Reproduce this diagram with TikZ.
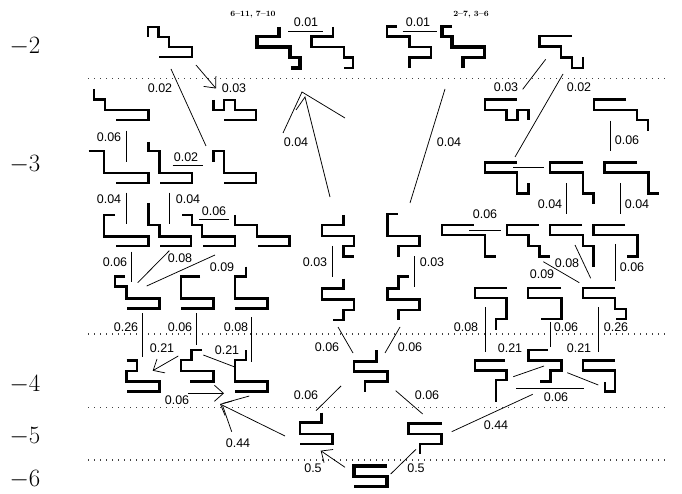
\documentclass[tikz,border=0pt]{standalone}
\usepackage{fontspec}
\newfontfamily\numfont{Liberation Sans}
\usetikzlibrary{arrows.meta}
\begin{document}
\begin{tikzpicture}[x=1pt,y=-1pt,
  conf/.style={line width=2.3pt, line join=miter},
  hot/.style={line width=3.6pt, line join=miter},
  tr/.style={line width=0.75pt},
  barb/.style={tr, -{Straight Barb[length=9pt,width=16pt,line width=0.75pt]}},
  lab/.style={font=\numfont\fontsize{12.5}{14}\selectfont, inner sep=0pt},
  tag/.style={font=\fontsize{8}{9}\selectfont\bfseries, inner sep=0pt},
  axis/.style={font=\fontsize{26}{30}\selectfont, inner sep=0pt},
  level/.style={draw=black!75, line width=1.1pt, dash pattern=on 1.2pt off 4.8pt}
]
\useasboundingbox (0,0) rectangle (682,494);

% energy levels
\node[axis] (e2) at (25,47) {$-2$};
\node[axis] (e3) at (25,165) {$-3$};
\node[axis] (e4) at (25,385) {$-4$};
\node[axis] (e5) at (25,437) {$-5$};
\node[axis] (e6) at (25,480) {$-6$};
\foreach \yy in {78.5,334,407.5,460} \draw[level] (88,\yy) -- (666,\yy);

% ---- conformations, top row
\draw[conf] (148,37)--(148,27)--(158.5,27)--(158.5,37)--(169,37)--(169,47)--(192,47)--(192,57)--(159,57);
\draw[hot] (279,27)--(279,36.5)--(257,36.5)--(257,47)--(290,47)--(290,57.5)--(300,57.5)--(300,68)--(290.5,68);
\draw[conf] (333,27)--(333,36.5)--(311.5,36.5)--(311.5,47)--(344,47)--(344,57.5)--(353,57.5)--(353,68)--(344,68);
\draw[conf] (397,26.5)--(387,26.5)--(387,36.5)--(409.5,36.5)--(409.5,47)--(431,47)--(431,57.5)--(409.5,57.5)--(409.5,68);
\draw[hot] (452,26.5)--(442,26.5)--(442,36.5)--(452,36.5)--(452,47)--(484.5,47)--(484.5,57.5)--(463,57.5)--(463,68);
\draw[conf] (572,36)--(539.5,36)--(539.5,46.5)--(561,46.5)--(561,57.5)--(572,57.5)--(572,68)--(583,68)--(583,57.5);
\node[tag] (t1) at (253,15) {6--11, 7--10};
\node[tag] (t2) at (471,15) {2--7, 3--6};

% ---- second row
\draw[conf] (94,89)--(94,99.5)--(105,99.5)--(105,110)--(148.5,110)--(148.5,120)--(116,120);
\draw[conf] (213.5,100)--(213.5,110)--(224,110)--(224,100)--(235,100)--(235,110)--(256,110)--(256,120)--(224,120);
\draw[conf] (516.5,99.5)--(485,99.5)--(485,110)--(506.5,110)--(506.5,120)--(517.5,120)--(517.5,110)--(528.5,110)--(528.5,120.5);
\draw[conf] (626,99.5)--(594,99.5)--(594,110)--(637,110)--(637,120)--(648,120)--(648,131);

% ---- third row
\draw[conf] (88.5,151)--(104,151)--(104,173)--(148.5,173)--(148.5,183)--(116,183);
\draw[conf] (148.5,142)--(148.5,151)--(159.5,151)--(159.5,173)--(192,173)--(192,183)--(159.5,183);
\draw[conf] (213.5,162)--(213.5,151)--(224,151)--(224,173)--(256,173)--(256,183)--(224,183);
\draw[conf] (516.5,162.5)--(485,162.5)--(485,172.5)--(517,172.5)--(517,193.5)--(528.5,193.5)--(528.5,183);
\draw[conf] (583,162.5)--(550,162.5)--(550,172.5)--(583,172.5)--(583,193.5)--(593.5,193.5)--(593.5,204);
\draw[conf] (637,162.5)--(604.5,162.5)--(604.5,172.5)--(648.5,172.5)--(648.5,193.5)--(658.5,193.5);

% ---- fourth row
\draw[conf] (115,215)--(104,215)--(104,236.5)--(148.5,236.5)--(148.5,246)--(116,246);
\draw[conf] (148.5,203)--(148.5,225)--(159.5,225)--(159.5,236.5)--(191,236.5)--(191,246)--(159.5,246);
\draw[conf] (182,215)--(192,215)--(192,225)--(202,225)--(202,236.5)--(235,236.5)--(235,246)--(203,246);
\draw[conf] (235,215)--(235,225)--(257,225)--(257,236.5)--(289.5,236.5)--(289.5,246)--(257.5,246);
\draw[conf] (343.5,215)--(343.5,225)--(322,225)--(322,236)--(354,236)--(354,246)--(343.5,246)--(343.5,256.5)--(354,256.5);
\draw[conf] (397.5,214)--(387.5,214)--(387.5,236)--(419.5,236)--(419.5,246)--(398.5,246)--(398.5,257);
\draw[conf] (473.5,225)--(442,225)--(442,235)--(485,235)--(485,256.5)--(496,256.5);
\draw[conf] (538.5,225)--(507,225)--(507,235)--(528.5,235)--(528.5,246)--(539.5,246)--(539.5,256.5)--(550,256.5);
\draw[conf] (582,225)--(550,225)--(550,235)--(583,235)--(583,246)--(593.5,246)--(593.5,267);
\draw[conf] (625,225)--(593.5,225)--(593.5,235)--(637.5,235)--(637.5,256.5)--(627,256.5);

% ---- fifth row
\draw[conf] (125,276.5)--(115,276.5)--(115,286.5)--(126.5,286.5)--(126.5,298.5)--(159.5,298.5)--(159.5,308.5)--(126.5,308.5);
\draw[conf] (200,276.5)--(181,276.5)--(181,298.5)--(213.5,298.5)--(213.5,308.5)--(181,308.5);
\draw[conf] (246,266.5)--(246,276.5)--(235,276.5)--(235,298.5)--(267.5,298.5)--(267.5,308.5)--(235,308.5);
\draw[conf] (343.5,278.5)--(343.5,288.5)--(322,288.5)--(322,299.5)--(354,299.5)--(354,310)--(343.5,310)--(343.5,320)--(333,320);
\draw[conf] (408.5,276.5)--(398.5,276.5)--(398.5,288.5)--(387.5,288.5)--(387.5,299.5)--(419.5,299.5)--(419.5,310)--(398.5,310)--(398.5,320);
\draw[conf] (506.5,288)--(475,288)--(475,298)--(506.5,298)--(506.5,319)--(496,319)--(496,329.5);
\draw[conf] (561,288)--(528,288)--(528,298)--(561.5,298)--(561.5,319)--(541,319);
\draw[conf] (615,288)--(583,288)--(583,298)--(615,298)--(615,309)--(626,309)--(626,319)--(615.5,319);

% ---- sixth row
\draw[conf] (126.5,360.5)--(137,360.5)--(137,371)--(126.5,371)--(126.5,381.5)--(159.5,381.5)--(159.5,391.5)--(126.5,391.5);
\draw[conf] (202,350)--(191.5,350)--(191.5,360)--(181,360)--(181,371)--(213.5,371)--(213.5,381.5)--(190,381.5);
\draw[conf] (246,350)--(246,360)--(235,360)--(235,381.5)--(267.5,381.5)--(267.5,391.5)--(235,391.5);
\draw[conf] (376.5,350)--(376.5,361.5)--(354,361.5)--(354,371.5)--(387.5,371.5)--(387.5,381.5)--(365,381.5)--(365,391.5);
\draw[conf] (505,360.5)--(475,360.5)--(475,370.5)--(506.5,370.5)--(506.5,380)--(496,380)--(496,401.5);
\draw[conf] (548,350)--(528.5,350)--(528.5,360.5)--(561.5,360.5)--(561.5,370.5)--(550.5,370.5)--(550.5,381.5)--(540,381.5);
\draw[conf] (615,360.5)--(583,360.5)--(583,370.5)--(615,370.5)--(615,391.5)--(605,391.5)--(605,382);

% ---- seventh and eighth rows
\draw[conf] (321.5,412.5)--(321.5,422.5)--(300,422.5)--(300,434)--(332.5,434)--(332.5,444)--(300,444);
\draw[conf] (441.5,423.5)--(408.5,423.5)--(408.5,434)--(441.5,434)--(441.5,444)--(420,444)--(420,454);
\draw[hot] (386.5,466)--(354,466)--(354,476.5)--(387,476.5)--(387,486.5)--(354,486.5);

% ---- transitions
\draw[tr] (288,31.7)--(322.7,31.7);   \node[lab] at (306,22) {0.01};
\draw[tr] (402.7,31.7)--(436.7,31.7); \node[lab] at (418,22) {0.01};
\draw[barb] (196,65)--(216,88.5);     \node[lab] at (234,88) {0.03};
\draw[tr] (171,69)--(206,146);        \node[lab] at (160,88) {0.02};
\draw[tr] (522.7,89.3)--(545.7,59.3); \node[lab] at (506,87) {0.03};
\draw[tr] (563,74)--(515,157);        \node[lab] at (579,87) {0.02};
\draw[tr] (445,89)--(410,203);        \node[lab] at (449,142) {0.04};
\draw[tr] (283,133)--(302,92)--(345,118);
\draw[tr] (296,110)--(305,97)--(330,197);
\node[lab] at (296,142) {0.04};

\draw[tr] (126,130.7)--(126,161.7);   \node[lab] at (109,137) {0.06};
\draw[tr] (172.7,165)--(203.3,165);   \node[lab] at (186,157) {0.02};
\draw[tr] (610,120.7)--(610,151);     \node[lab] at (627,140) {0.06};
\draw[tr] (513.3,167.3)--(544,167.3);

\draw[tr] (126,192.7)--(126,224);     \node[lab] at (109,199) {0.04};
\draw[tr] (169.3,192.7)--(169.3,224); \node[lab] at (188,199) {0.04};
\draw[tr] (199,219.3)--(229.3,219.3); \node[lab] at (214,211) {0.06};
\draw[tr] (566.7,183.3)--(566.7,214); \node[lab] at (550,204) {0.04};
\draw[tr] (620.7,183.3)--(620.7,214); \node[lab] at (637,204) {0.04};
\draw[tr] (469.3,230)--(500.7,230);   \node[lab] at (485,214) {0.06};

\draw[tr] (131.7,251.7)--(131.7,281.7); \node[lab] at (115,262) {0.06};
\draw[tr] (169.3,250.7)--(137.7,282.7); \node[lab] at (180,258) {0.08};
\draw[tr] (215,255)--(146.7,286);       \node[lab] at (222,267) {0.09};
\draw[tr] (332.7,246)--(332.7,276.7);   \node[lab] at (315,262) {0.03};
\draw[tr] (414.3,256)--(414.3,287.3);   \node[lab] at (432,262) {0.03};
\draw[tr] (575,245)--(590.7,278.3);     \node[lab] at (567,263) {0.08};
\draw[tr] (543.3,261.7)--(579.3,282.7); \node[lab] at (542,274) {0.09};
\draw[tr] (615,244)--(615,280.7);       \node[lab] at (632,267) {0.06};

\draw[tr] (142.7,313.3)--(142.7,357.3); \node[lab] at (126,327) {0.26};
\draw[tr] (196.7,313.3)--(196.7,345);   \node[lab] at (180,327) {0.06};
\draw[tr] (251.7,317.3)--(251.7,361.7); \node[lab] at (236,327) {0.08};
\draw[barb] (178.3,356)--(152.7,370.7); \node[lab] at (162,348) {0.21};
\draw[tr] (203.3,355)--(234,366.7);     \node[lab] at (227,350) {0.21};
\draw[tr] (338,327)--(353,353);         \node[lab] at (327,347) {0.06};
\draw[tr] (400,327)--(385,353);         \node[lab] at (410,347) {0.06};
\draw[tr] (485,307.3)--(485,351.7);     \node[lab] at (466,327) {0.08};
\draw[tr] (550,321.7)--(550,347);       \node[lab] at (566,327) {0.06};
\draw[tr] (598.3,307.3)--(598.3,351.7); \node[lab] at (616,327) {0.26};
\draw[tr] (513.3,376.7)--(544,366);     \node[lab] at (510,348) {0.21};
\draw[tr] (567.3,372.7)--(598.3,385);   \node[lab] at (579,348) {0.21};
\draw[tr] (516,388.3)--(584,388.3);     \node[lab] at (556,397) {0.06};

\draw[barb] (188.3,393.3)--(224,393.3); \node[lab] at (177,400) {0.06};
\draw[tr] (249.3,396)--(223.3,403.3);
\draw[barb] (285,436)--(220,404);
\draw[tr] (231.7,431.7)--(222.7,406);   \node[lab] at (238,443) {0.44};
\draw[tr] (341,386)--(316,410.7);       \node[lab] at (306,395) {0.06};
\draw[tr] (395.7,390.7)--(422.7,414);   \node[lab] at (427,395) {0.06};
\draw[tr] (532.7,394.3)--(451.7,431.7); \node[lab] at (496,425) {0.44};

\draw[barb] (345,467.3)--(320.7,450.7); \node[lab] at (313,468) {0.5};
\draw[tr] (390.7,474)--(416,449.3);     \node[lab] at (416,468) {0.5};
\end{tikzpicture}
\end{document}
